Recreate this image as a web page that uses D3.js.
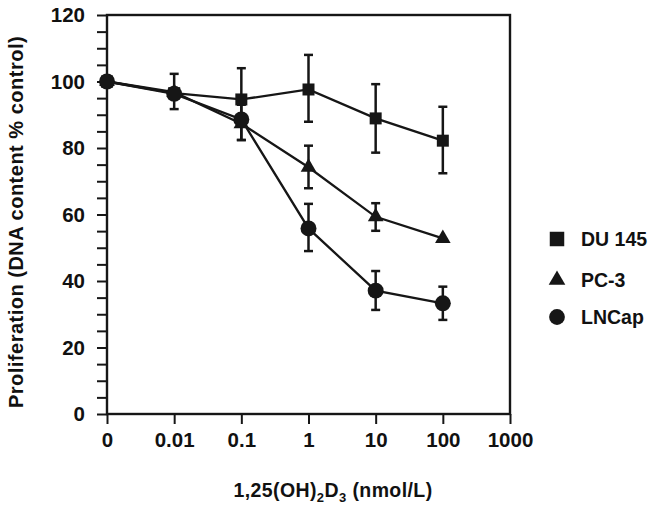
<!DOCTYPE html>
<html><head><meta charset="utf-8">
<script src="https://cdn.jsdelivr.net/npm/d3@7"></script>
<style>body{margin:0;background:#fff}svg{display:block}text{font-family:"Liberation Sans",Arial,sans-serif;font-weight:bold;fill:#111}</style>
</head><body><svg id="c" width="649" height="508"></svg>
<script>
const doses = ["0","0.01","0.1","1","10","100","1000"];
const yTicks = [0,20,40,60,80,100,120];
const du145 = [100,96.5,94.6,97.6,88.9,82.2];
const du145Lo = [null,91.7,82.4,87.9,78.6,72.4];
const du145Hi = [null,102.3,104,108,99.2,92.4];
const pc3 = [100,96.8,87.3,74.2,59.3,52.8];
const pc3Lo = [null,null,null,67.9,55.1,null];
const pc3Hi = [null,null,null,80.7,63.4,null];
const lncap = [100,96.3,88.6,55.8,37.1,33.3];
const lncapLo = [null,null,82.4,49,31.3,28.3];
const lncapHi = [null,null,93,63.2,43,38.3];
const seriesNames = ["DU 145","PC-3","LNCap"];

const svg = d3.select("#c");
const L=107,R=510,T=15,B=414;
const x = d3.scalePoint().domain(doses).range([L,R]);
const y = d3.scaleLinear().domain([0,120]).range([B,T]);
const ink="#161616";
const FS="19.5px", TFS="20.5px";

// frame
svg.append("rect").attr("x",L).attr("y",T).attr("width",R-L).attr("height",B-T)
  .attr("fill","none").attr("stroke",ink).attr("stroke-width",2.4);

// y axis
const ya = svg.append("g").attr("transform",`translate(${L},0)`)
  .call(d3.axisLeft(y).tickValues(d3.range(0,121,5)).tickSize(10).tickPadding(12)
    .tickFormat(d=> yTicks.includes(d)? d : ""));
ya.select(".domain").remove();
ya.selectAll("line").attr("stroke",ink).attr("stroke-width",2);
ya.selectAll("text").style("font-size",TFS).attr("fill",ink);

// x axis
const xa = svg.append("g").attr("transform",`translate(0,${B})`)
  .call(d3.axisBottom(x).tickSize(10).tickPadding(8));
xa.select(".domain").remove();
xa.selectAll("line").attr("stroke",ink).attr("stroke-width",2);
xa.selectAll("text").style("font-size",TFS).attr("fill",ink);

// axis titles
svg.append("text").attr("transform","translate(23,222) rotate(-90)").attr("text-anchor","middle")
  .style("font-size","20px").style("letter-spacing","0.5px").text("Proliferation (DNA content % control)");
const xt = svg.append("text").attr("x",333).attr("y",497).attr("text-anchor","middle").style("font-size",FS).style("letter-spacing","0.4px");
xt.append("tspan").text("1,25(OH)");
xt.append("tspan").attr("dy",5).style("font-size","13px").text("2");
xt.append("tspan").attr("dy",-5).text("D");
xt.append("tspan").attr("dy",5).style("font-size","13px").text("3");
xt.append("tspan").attr("dy",-5).text(" (nmol/L)");

const series = [
  {name:seriesNames[0], v:du145, lo:du145Lo, hi:du145Hi, sym:d3.symbolSquare, size:144, lsize:210},
  {name:seriesNames[1], v:pc3, lo:pc3Lo, hi:pc3Hi, sym:d3.symbolTriangle, size:105, lsize:120},
  {name:seriesNames[2], v:lncap, lo:lncapLo, hi:lncapHi, sym:d3.symbolCircle, size:200, lsize:195}
];
const line = d3.line().x((d,i)=>x(doses[i])).y(d=>y(d));
series.forEach(s=>{
  svg.append("path").attr("d",line(s.v)).attr("fill","none").attr("stroke",ink).attr("stroke-width",2.3);
  s.v.forEach((v,i)=>{
    if(s.lo[i]==null) return;
    const cx=x(doses[i]);
    const g=svg.append("g").attr("stroke",ink).attr("stroke-width",2.5);
    g.append("line").attr("x1",cx).attr("x2",cx).attr("y1",y(s.lo[i])).attr("y2",y(s.hi[i]));
    [s.lo[i],s.hi[i]].forEach(e=>g.append("line").attr("x1",cx-4.5).attr("x2",cx+4.5).attr("y1",y(e)).attr("y2",y(e)));
  });
});
series.forEach(s=>{
  s.v.forEach((v,i)=>{
    svg.append("path").attr("d",d3.symbol(s.sym,s.size)())
      .attr("transform",`translate(${x(doses[i])},${y(v)})`).attr("fill",ink);
  });
});

// legend
const ly=[239,280,317], lty=[246,287,324];
series.forEach((s,i)=>{
  svg.append("path").attr("d",d3.symbol(s.sym,s.lsize)()).attr("transform",`translate(557,${ly[i]})`).attr("fill",ink);
  svg.append("text").attr("x",581).attr("y",lty[i]).style("font-size",FS).text(s.name);
});
</script></body></html>
